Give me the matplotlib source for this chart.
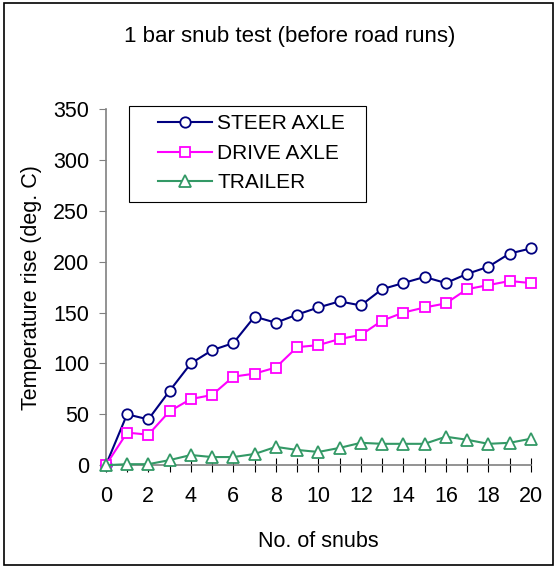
import numpy as np
import matplotlib.pyplot as plt
from matplotlib.patches import Rectangle

plt.rcParams['font.family'] = ['Liberation Sans', 'DejaVu Sans']

snubs = list(range(0, 21))
steer = [0, 50, 45, 73, 100, 113, 120, 146, 140, 148, 155, 161, 157, 173, 179, 185, 179, 188, 195, 208, 213]
drive = [0, 32, 30, 53, 65, 69, 87, 90, 96, 116, 118, 124, 128, 142, 150, 155, 159, 173, 177, 181, 179]
trailer = [0, 1, 1, 5, 10, 8, 8, 11, 18, 15, 13, 17, 22, 21, 21, 21, 28, 25, 21, 22, 26]

fig = plt.figure(figsize=(5.57, 5.68), dpi=100)
ax = fig.add_axes([0.190, 0.181, 0.763, 0.627])

# outer frame
fig.patches.append(Rectangle((0.008, 0.005), 0.984, 0.99, transform=fig.transFigure,
                             fill=False, edgecolor='black', linewidth=1.2))

ax.plot(snubs, steer, color='#000080', marker='o', markersize=7.5, markerfacecolor='white',
        markeredgewidth=1.3, linewidth=1.5, label='STEER AXLE', clip_on=False, zorder=3)
ax.plot(snubs, drive, color='#FF00FF', marker='s', markersize=7.5, markerfacecolor='white',
        markeredgewidth=1.3, linewidth=1.5, label='DRIVE AXLE', clip_on=False, zorder=3)
ax.plot(snubs, trailer, color='#339966', marker='^', markersize=8.5, markerfacecolor='white',
        markeredgewidth=1.3, linewidth=1.5, label='TRAILER', clip_on=False, zorder=3)

ax.set_xlim(0, 20)
ax.set_ylim(0, 350)
ax.set_xticks(range(0, 21, 2))
ax.set_xticks(range(0, 21), minor=True)
ax.set_yticks(range(0, 351, 50))

for s in ['top', 'right']:
    ax.spines[s].set_visible(False)
for s in ['left', 'bottom']:
    ax.spines[s].set_color('#808080')
    ax.spines[s].set_linewidth(1.2)

ax.tick_params(axis='x', which='both', direction='inout', length=10, width=0.8,
               labelsize=15.5, pad=10)
ax.tick_params(axis='y', direction='out', length=5, width=0.8, labelsize=15.5, pad=7,
               color='#808080')

ax.set_xlabel('No. of snubs', fontsize=15.5, labelpad=17)
ax.set_ylabel('Temperature rise (deg. C)', fontsize=15.5, labelpad=8)
fig.text(0.52, 0.936, '1 bar snub test (before road runs)', fontsize=16, ha='center', va='center')

# legend box (drawn separately to get the wide left margin)
ax.add_patch(Rectangle((0.054, 0.739), 0.558, 0.269, transform=ax.transAxes, fill=False,
                       edgecolor='black', linewidth=0.8, clip_on=False, zorder=4))
leg = ax.legend(loc='upper left', bbox_to_anchor=(0.122, 0.985), fontsize=15, frameon=False,
                handlelength=2.6, borderpad=0, labelspacing=0.5, handletextpad=0.25,
                borderaxespad=0)

fig.savefig('out.png', dpi=100)
